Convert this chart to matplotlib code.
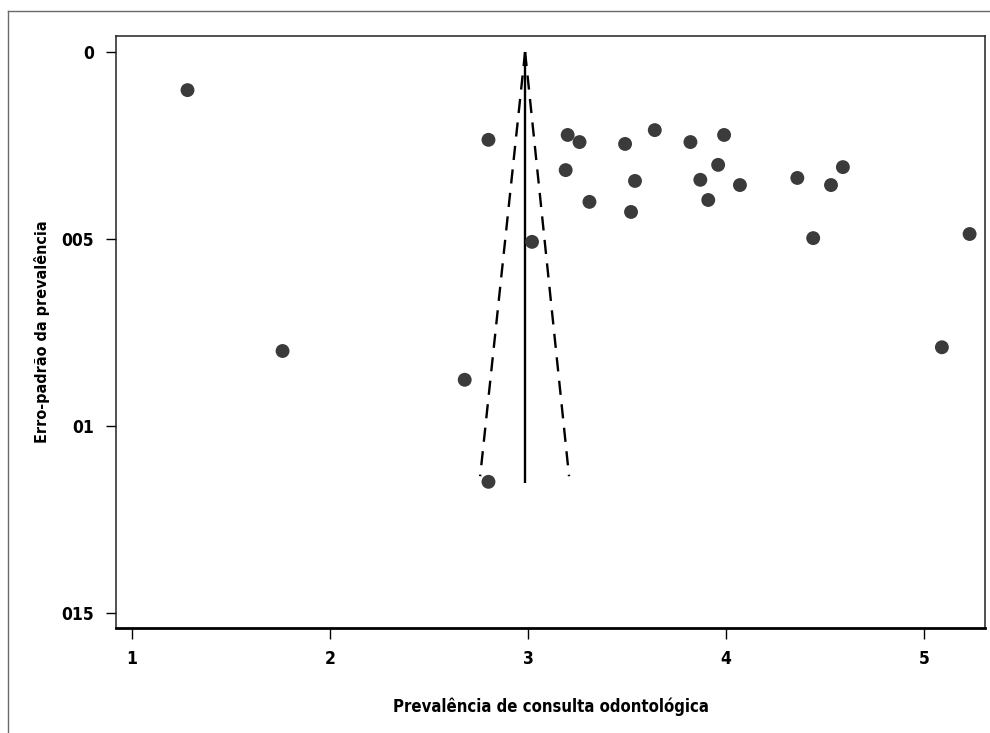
"""Funnel plot: prevalence of dental visits vs standard error."""
import matplotlib
matplotlib.use("Agg")
import matplotlib.pyplot as plt
from matplotlib.lines import Line2D

# study estimates
prevalence = [1.28, 1.76, 2.80, 3.20, 3.26, 3.19, 3.31, 3.49, 3.64, 3.54,
              3.52, 3.82, 3.99, 3.96, 3.87, 4.07, 3.91, 4.36, 4.53, 4.59,
              4.44, 5.23, 3.02, 5.09, 2.68, 2.80]
std_error = [0.00102, 0.00800, 0.00235, 0.00222, 0.00241, 0.00316, 0.00401,
             0.00246, 0.00209, 0.00345, 0.00428, 0.00241, 0.00222, 0.00302,
             0.00342, 0.00356, 0.00396, 0.00337, 0.00356, 0.00308, 0.00498,
             0.00487, 0.00508, 0.00790, 0.00877, 0.01150]

# pooled estimate and funnel limits
pooled = 2.985
funnel_se = [0.0, 0.01135]
funnel_lo = [2.985, 2.758]
funnel_hi = [2.985, 3.207]
pooled_se = [0.0, 0.01153]

x_ticks = [1, 2, 3, 4, 5]
y_ticks = [0.0, 0.005, 0.01, 0.015]
y_tick_labels = ["0", "005", "01", "015"]

plt.rcParams["font.family"] = ["Liberation Sans Narrow", "DejaVu Sans"]
plt.rcParams["font.stretch"] = "condensed"
plt.rcParams["font.weight"] = "bold"

fig = plt.figure(figsize=(9.9, 7.33), dpi=100)
ax = fig.add_axes([0.1172, 0.1433, 0.8778, 0.8076])

# outer frame (only left and top visible)
fig.add_artist(Line2D([8 / 990, 8 / 990], [0, 1 - 11 / 733],
                      transform=fig.transFigure, color="#6a6a6a", lw=1.0))
fig.add_artist(Line2D([8 / 990, 1], [1 - 11 / 733, 1 - 11 / 733],
                      transform=fig.transFigure, color="#6a6a6a", lw=1.0))

ax.plot([pooled, pooled], pooled_se, color="black", lw=1.7,
        solid_capstyle="butt", zorder=2)
ax.plot(funnel_lo, funnel_se, color="black", lw=1.7, dashes=(6, 4), zorder=2)
ax.plot(funnel_hi, funnel_se, color="black", lw=1.7, dashes=(6, 4), zorder=2)

ax.scatter(prevalence, std_error, s=100, color="#3b3b3b",
           edgecolors="none", zorder=3)

ax.set_xlim(0.919, 5.308)
ax.set_ylim(0.01541, -0.000428)
ax.set_xticks(x_ticks)
ax.set_xticklabels([str(t) for t in x_ticks])
ax.set_yticks(y_ticks)
ax.set_yticklabels(y_tick_labels)
ax.tick_params(axis="x", length=8, width=1.0, pad=8, labelsize=12.5)
ax.tick_params(axis="y", length=7, width=1.0, pad=9, labelsize=12.5)

for side in ["left", "top", "right"]:
    ax.spines[side].set_linewidth(1.1)
    ax.spines[side].set_color("#222222")
ax.spines["bottom"].set_linewidth(2.0)

ax.set_xlabel("Prevalência de consulta odontológica", fontsize=12,
              fontweight="bold")
ax.set_ylabel("Erro-padrão da prevalência", fontsize=11.5, fontweight="bold")
ax.xaxis.label.set_va("center")
ax.yaxis.label.set_va("center")
ax.xaxis.set_label_coords(0.5, -0.1334)
ax.yaxis.set_label_coords(-0.0853, 0.5)

fig.savefig("out.png", dpi=100)
